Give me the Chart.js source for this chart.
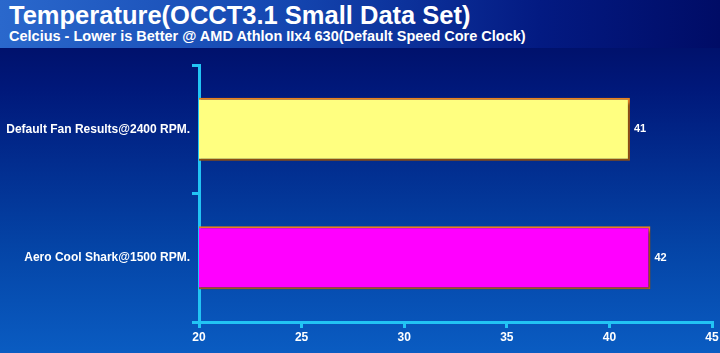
<!DOCTYPE html>
<html>
<head>
<meta charset="utf-8">
<script src="https://cdn.jsdelivr.net/npm/chart.js@4"></script>
<style>
  html, body { margin: 0; padding: 0; }
  body {
    width: 720px; height: 353px; overflow: hidden; position: relative;
    background: linear-gradient(to bottom, #000a5c 0%, #00187a 25%, #0444a6 70%, #0a5cc2 100%);
    font-family: "Liberation Sans", Arial, sans-serif;
  }
  #header {
    position: absolute; left: 0; top: 0; width: 720px; height: 48px;
    background: linear-gradient(to right, #2a68cc 0%, #1446b0 40%, #031a82 75%, #000c66 100%);
  }
  #title {
    position: absolute; left: 9px; top: 1px; color: #fff;
    font-weight: bold; font-size: 25.5px; white-space: nowrap;
  }
  #subtitle {
    position: absolute; left: 9px; top: 28px; color: #fff;
    font-weight: bold; font-size: 14.5px; white-space: nowrap;
  }
  #wrap { position: absolute; left: 0; top: 0; width: 720px; height: 353px; }
</style>
</head>
<body>
<div id="header"></div>
<div id="title">Temperature(OCCT3.1 Small Data Set)</div>
<div id="subtitle">Celcius - Lower is Better @ AMD Athlon IIx4 630(Default Speed Core Clock)</div>
<div id="wrap"><canvas id="myChart" width="720" height="353"></canvas></div>
<script>
// chart data
const categories = ['Default Fan Results@2400 RPM.', 'Aero Cool Shark@1500 RPM.'];
const temps = [41, 42];
const barColors = ['#ffff80', '#ff00ff'];
const xTicks = [20, 25, 30, 35, 40, 45];

const axisColor = '#22c4f4';
const labelFont = '"Liberation Sans", Arial, sans-serif';

// draws the value right of each bar
const valueLabels = {
    id: 'valueLabels',
    afterDatasetsDraw(chart) {
        const ctx = chart.ctx;
        const meta = chart.getDatasetMeta(0);
        ctx.save();
        ctx.fillStyle = '#ffffff';
        ctx.font = 'bold 11px ' + labelFont;
        ctx.textBaseline = 'middle';
        meta.data.forEach((bar, i) => {
            ctx.fillText(String(temps[i]), bar.x + 4, bar.y);
        });
        ctx.restore();
    }
};

// soft shadow behind the bars
const barShadow = {
    id: 'barShadow',
    beforeDatasetDraw(chart) {
        const ctx = chart.ctx;
        ctx.save();
        ctx.shadowColor = 'rgba(0,0,0,0.45)';
        ctx.shadowOffsetX = 3;
        ctx.shadowOffsetY = 3;
        ctx.shadowBlur = 3;
    },
    afterDatasetDraw(chart) {
        chart.ctx.restore();
    }
};

const ctx = document.getElementById('myChart').getContext('2d');
window.myChart = new Chart(ctx, {
    type: 'bar',
    data: {
        labels: categories,
        datasets: [{
            data: temps,
            backgroundColor: barColors,
            borderColor: '#e8801c',
            borderWidth: 2,
            borderSkipped: false,
            barPercentage: 0.49,
            categoryPercentage: 1.0
        }]
    },
    options: {
        indexAxis: 'y',
        responsive: false,
        animation: false,
        layout: { padding: { top: 65, right: 8, left: 0, bottom: 0 } },
        plugins: {
            legend: { display: false },
            tooltip: { enabled: false }
        },
        scales: {
            x: {
                min: 20,
                max: 45,
                afterBuildTicks(axis) {
                    axis.ticks = xTicks.map(v => ({ value: v }));
                },
                border: { color: axisColor, width: 3 },
                grid: {
                    drawOnChartArea: false,
                    drawTicks: true,
                    tickLength: 6,
                    color: axisColor,
                    lineWidth: 3
                },
                ticks: {
                    color: '#ffffff',
                    padding: 2,
                    font: { family: labelFont, size: 12, weight: 'bold' }
                },
                afterFit(axis) {
                    axis.height = 31;
                    axis.paddingLeft = 0;
                    axis.paddingRight = 0;
                }
            },
            y: {
                border: { color: axisColor, width: 3 },
                grid: {
                    offset: true,
                    drawOnChartArea: false,
                    drawTicks: true,
                    tickLength: 7,
                    color: axisColor,
                    lineWidth: 3
                },
                ticks: {
                    color: '#ffffff',
                    padding: 2,
                    font: { family: labelFont, size: 12, weight: 'bold' }
                },
                afterFit(axis) { axis.width = 199; }
            }
        }
    },
    plugins: [barShadow, valueLabels]
});
</script>
</body>
</html>
